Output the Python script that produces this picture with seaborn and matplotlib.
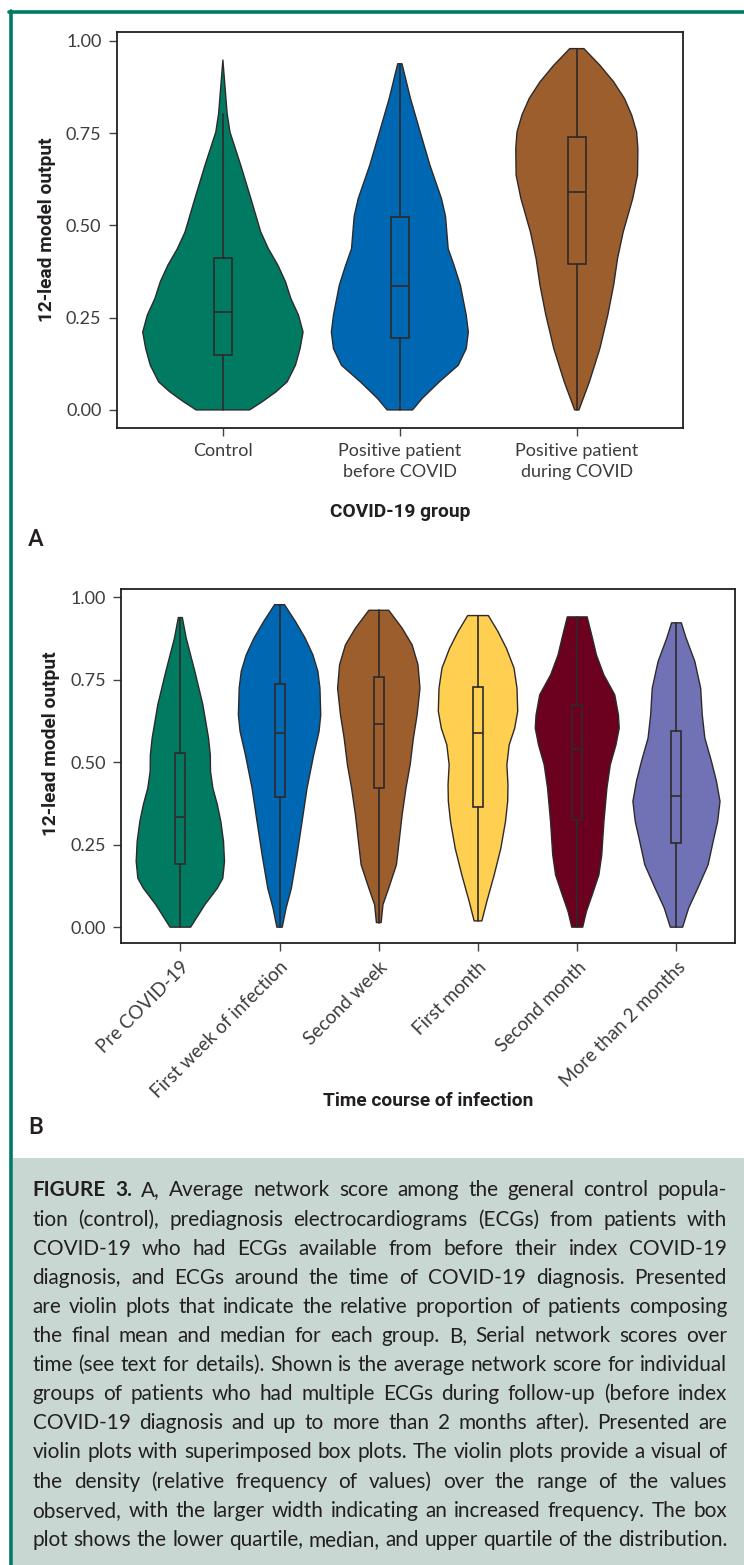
import numpy as np
import matplotlib
matplotlib.use("Agg")
import matplotlib.pyplot as plt
from matplotlib.patches import Rectangle
from matplotlib.lines import Line2D
import seaborn as sns

# ---------------- Panel A data ----------------
groups_a = ["Control", "Positive patient\nbefore COVID", "Positive patient\nduring COVID"]
colors_a = ["#007A61", "#0067B2", "#9C5E2C"]

# violin outlines: value levels and half widths (category units)
control_v = [0.0, 0.022, 0.049, 0.076, 0.121, 0.166, 0.211, 0.257, 0.302, 0.347,
             0.392, 0.437, 0.482, 0.573, 0.663, 0.753, 0.803, 0.948]
control_w = [0.151, 0.222, 0.30, 0.363, 0.41, 0.436, 0.453, 0.427, 0.384, 0.354,
             0.311, 0.257, 0.214, 0.158, 0.101, 0.040, 0.024, 0.0]
before_v = [0.0, 0.031, 0.076, 0.121, 0.166, 0.211, 0.257, 0.338, 0.392, 0.437,
            0.525, 0.573, 0.663, 0.753, 0.844, 0.938]
before_w = [0.072, 0.126, 0.223, 0.33, 0.375, 0.387, 0.375, 0.342, 0.306, 0.273,
            0.258, 0.235, 0.17, 0.115, 0.06, 0.012]
during_v = [0.0, 0.076, 0.166, 0.257, 0.338, 0.41, 0.482, 0.573, 0.636, 0.708,
            0.753, 0.799, 0.844, 0.889, 0.934, 0.979]
during_w = [0.012, 0.071, 0.13, 0.175, 0.208, 0.23, 0.262, 0.316, 0.343, 0.345,
            0.338, 0.31, 0.269, 0.208, 0.13, 0.04]

q1_a = [0.150, 0.195, 0.395]
med_a = [0.266, 0.335, 0.590]
q3_a = [0.412, 0.523, 0.740]
lo_a = [0.0, 0.0, 0.0]
hi_a = [0.803, 0.938, 0.979]

# ---------------- Panel B data ----------------
groups_b = ["Pre COVID-19", "First week of infection", "Second week",
            "First month", "Second month", "More than 2 months"]
colors_b = ["#007A61", "#0067B2", "#9C5E2C", "#FFCF52", "#6B001F", "#7072B5"]

pre_v = [0.0, 0.068, 0.118, 0.148, 0.199, 0.26, 0.32, 0.371, 0.421, 0.472,
         0.522, 0.573, 0.674, 0.775, 0.876, 0.938]
pre_w = [0.104, 0.247, 0.373, 0.428, 0.445, 0.435, 0.408, 0.373, 0.328, 0.304,
         0.302, 0.284, 0.227, 0.146, 0.059, 0.02]
week1_v = [0.0, 0.058, 0.118, 0.219, 0.32, 0.421, 0.522, 0.593, 0.643, 0.724,
           0.775, 0.825, 0.876, 0.926, 0.977]
week1_w = [0.027, 0.066, 0.119, 0.176, 0.227, 0.277, 0.344, 0.398, 0.415, 0.407,
           0.386, 0.336, 0.257, 0.16, 0.05]
week2_v = [0.014, 0.068, 0.118, 0.189, 0.26, 0.34, 0.421, 0.492, 0.573, 0.643,
           0.724, 0.795, 0.855, 0.906, 0.96]
week2_w = [0.024, 0.042, 0.10, 0.178, 0.205, 0.235, 0.274, 0.316, 0.349, 0.386,
           0.415, 0.395, 0.336, 0.235, 0.10]
month1_v = [0.019, 0.078, 0.158, 0.239, 0.32, 0.381, 0.431, 0.492, 0.552, 0.603,
            0.654, 0.724, 0.785, 0.845, 0.896, 0.944]
month1_w = [0.039, 0.089, 0.163, 0.23, 0.277, 0.299, 0.302, 0.291, 0.314, 0.37,
            0.40, 0.393, 0.363, 0.286, 0.20, 0.104]
month2_v = [0.0, 0.047, 0.098, 0.158, 0.219, 0.32, 0.421, 0.492, 0.552, 0.603,
            0.643, 0.704, 0.765, 0.825, 0.876, 0.94]
month2_w = [0.055, 0.092, 0.151, 0.218, 0.247, 0.269, 0.299, 0.333, 0.39, 0.423,
            0.415, 0.378, 0.267, 0.193, 0.153, 0.10]
later_v = [0.0, 0.058, 0.118, 0.189, 0.26, 0.32, 0.381, 0.442, 0.502, 0.573,
           0.643, 0.724, 0.805, 0.876, 0.922]
later_w = [0.062, 0.123, 0.215, 0.319, 0.37, 0.415, 0.439, 0.403, 0.353, 0.286,
           0.26, 0.244, 0.185, 0.097, 0.049]

q1_b = [0.19, 0.393, 0.421, 0.364, 0.324, 0.254]
med_b = [0.334, 0.587, 0.614, 0.587, 0.540, 0.397]
q3_b = [0.528, 0.736, 0.757, 0.728, 0.674, 0.593]
lo_b = [0.0, 0.0, 0.014, 0.019, 0.0, 0.0]
hi_b = [0.938, 0.977, 0.96, 0.944, 0.94, 0.922]

yticks = [0.0, 0.25, 0.5, 0.75, 1.0]

caption_lines = [
    "FIGURE 3. A, Average network score among the general control popula-",
    "tion (control), prediagnosis electrocardiograms (ECGs) from patients with",
    "COVID-19 who had ECGs available from before their index COVID-19",
    "diagnosis, and ECGs around the time of COVID-19 diagnosis. Presented",
    "are violin plots that indicate the relative proportion of patients composing",
    "the final mean and median for each group. B, Serial network scores over",
    "time (see text for details). Shown is the average network score for individual",
    "groups of patients who had multiple ECGs during follow-up (before index",
    "COVID-19 diagnosis and up to more than 2 months after). Presented are",
    "violin plots with superimposed box plots. The violin plots provide a visual of",
    "the density (relative frequency of values) over the range of the values",
    "observed, with the larger width indicating an increased frequency. The box",
    "plot shows the lower quartile, median, and upper quartile of the distribution.",
]

# ---------------- style ----------------
sns.set_style("ticks")
plt.rcParams["font.family"] = ["Lato", "DejaVu Sans"]
ink = "#231F20"
edge = "#2E2A2B"
tick_font = dict(family=["Lato", "DejaVu Sans"], size=13, color="#3C3C3C")
label_font = dict(family=["Roboto", "DejaVu Sans"], weight="bold", size=13.8)

W, H = 744, 1565
fig = plt.figure(figsize=(W / 100, H / 100), dpi=100)


def fig_box(left, top, right, bottom):
    return [left / W, 1 - bottom / H, (right - left) / W, (bottom - top) / H]


def draw_panel(ax, levels, widths, colors, q1, med, q3, lo, hi):
    for i, (v, w, c) in enumerate(zip(levels, widths, colors)):
        v = np.asarray(v)
        w = np.asarray(w)
        xs = np.concatenate([i - w, (i + w)[::-1]])
        ys = np.concatenate([v, v[::-1]])
        ax.fill(xs, ys, facecolor=c, edgecolor=edge, linewidth=1.0,
                joinstyle="round", zorder=1)
    stats = [dict(q1=a, med=m, q3=b, whislo=l, whishi=h, fliers=[])
             for a, m, b, l, h in zip(q1, med, q3, lo, hi)]
    ax.bxp(stats, positions=range(len(stats)), widths=0.1, showcaps=False,
           patch_artist=True, manage_ticks=False, zorder=3,
           boxprops=dict(facecolor="none", edgecolor=edge, linewidth=1.2),
           medianprops=dict(color=edge, linewidth=1.2),
           whiskerprops=dict(color=edge, linewidth=1.2))
    ax.set_yticks(yticks)
    ax.set_yticklabels([f"{t:.2f}" for t in yticks], **tick_font)
    ax.set_xticks(range(len(levels)))
    for sp in ax.spines.values():
        sp.set_color(ink)
        sp.set_linewidth(1.3)
    ax.tick_params(length=6, width=1.0, color="#444444", pad=5)
    ax.grid(False)


# ---- Panel A ----
ax_a = fig.add_axes(fig_box(116.7, 32, 683, 428))
draw_panel(ax_a, [control_v, before_v, during_v], [control_w, before_w, during_w],
           colors_a, q1_a, med_a, q3_a, lo_a, hi_a)
ax_a.set_xlim(-0.6, 2.6)
ax_a.set_ylim(-0.049, 1.024)
ax_a.set_xticklabels(groups_a, **tick_font, linespacing=1.4)
ax_a.set_ylabel("12-lead model output", color=ink, **label_font)
ax_a.set_xlabel("COVID-19 group", color=ink, **label_font)
ax_a.yaxis.set_label_coords(-0.108, 0.5)
ax_a.xaxis.set_label_coords(0.5, -0.19)

# ---- Panel B ----
ax_b = fig.add_axes(fig_box(121.4, 588.5, 735, 943))
draw_panel(ax_b, [pre_v, week1_v, week2_v, month1_v, month2_v, later_v],
           [pre_w, week1_w, week2_w, month1_w, month2_w, later_w],
           colors_b, q1_b, med_b, q3_b, lo_b, hi_b)
ax_b.set_xlim(-0.594, 5.59)
ax_b.set_ylim(-0.048, 1.026)
ax_b.set_xticklabels(groups_b, rotation=45, ha="right", rotation_mode="anchor",
                     **{**tick_font, "size": 13.5})
ax_b.set_ylabel("12-lead model output", color=ink, **label_font)
ax_b.set_xlabel("Time course of infection", color=ink, **label_font)
ax_b.yaxis.set_label_coords(-0.10, 0.561)
ax_b.xaxis.set_label_coords(0.5, -0.42)

# panel letters
fig.text(36 / W, 1 - 539 / H, "A", ha="center", va="center", fontsize=17,
         weight="medium", family=["Roboto", "DejaVu Sans"], color=ink)
fig.text(36 / W, 1 - 1127 / H, "B", ha="center", va="center", fontsize=17,
         weight="medium", family=["Roboto", "DejaVu Sans"], color=ink)

# frame lines and caption box
teal = "#007A64"
fig.patches.append(Rectangle((12.5 / W, 0), 1 - 12.5 / W, 1 - 1158 / H,
                             transform=fig.transFigure, facecolor="#C8D7D2",
                             edgecolor="none", zorder=0))
fig.lines.append(Line2D([9 / W, 1], [1 - 11.5 / H, 1 - 11.5 / H],
                        transform=fig.transFigure, color=teal, linewidth=2.6))
fig.lines.append(Line2D([11 / W, 11 / W], [0, 1 - 10.5 / H],
                        transform=fig.transFigure, color=teal, linewidth=2.6))

# justified caption
fig.canvas.draw()
renderer = fig.canvas.get_renderer()
x_left, x_right = 32.5, 727.0
avail = x_right - x_left


def word_width(word, size, weight):
    t = fig.text(0, 0, word, fontsize=size, weight=weight,
                 family=["Lato", "DejaVu Sans"])
    w = t.get_window_extent(renderer).width
    t.remove()
    return w


base = 12.0
space_w = word_width("a a", base, "normal") - word_width("aa", base, "normal")
natural = []
for k, line in enumerate(caption_lines):
    words = line.split(" ")
    ww = [word_width(w, base, "bold" if (k == 0 and j < 2) else "normal")
          for j, w in enumerate(words)]
    natural.append(sum(ww) + space_w * (len(words) - 1))
cap_size = base * avail / max(natural) * 0.995

for k, line in enumerate(caption_lines):
    words = line.split(" ")
    weights = ["bold" if (k == 0 and j < 2) else "normal" for j in range(len(words))]
    ww = [word_width(w, cap_size, wt) for w, wt in zip(words, weights)]
    gap = (avail - sum(ww)) / (len(words) - 1)
    x = x_left
    y = 1 - (1196.5 + 29.1 * k) / H
    for w, wt, wd in zip(words, weights, ww):
        fig.text(x / W, y, w, fontsize=cap_size, weight=wt, color=ink,
                 family=["Lato", "DejaVu Sans"], ha="left", va="baseline")
        x += wd + gap

fig.savefig("out.png", dpi=100)
